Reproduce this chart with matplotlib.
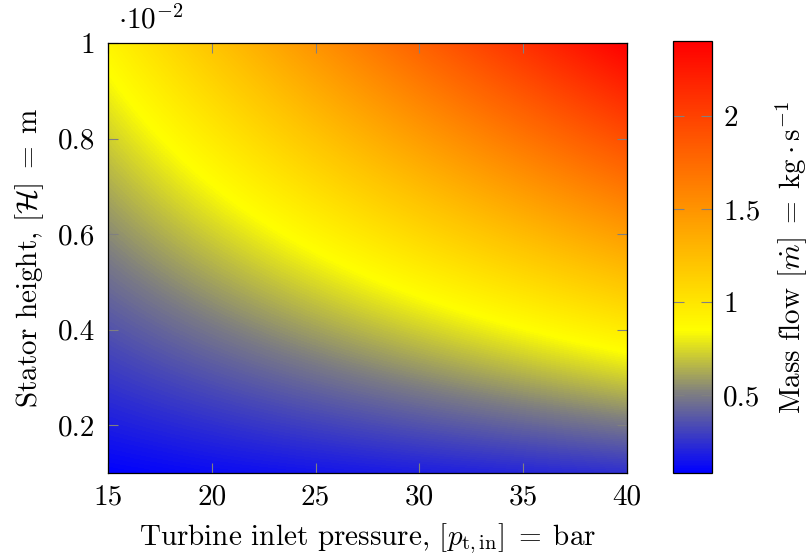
import numpy as np
import matplotlib
matplotlib.use('Agg')
import matplotlib.pyplot as plt
from matplotlib.colors import LinearSegmentedColormap

# Turbine inlet pressure in bar (columns) and stator height in 1e-2 m (rows)
pressure = [15, 20, 25, 30, 35, 40]
height = [0.1, 0.2, 0.3, 0.4, 0.5, 0.6, 0.7, 0.8, 0.9, 1.0]

# Mass flow in kg/s, read from the colour field, one row per stator height
mass_flow = [
    [0.085, 0.12, 0.15, 0.18, 0.21, 0.24],
    [0.18, 0.24, 0.30, 0.36, 0.42, 0.48],
    [0.27, 0.36, 0.45, 0.54, 0.63, 0.72],
    [0.36, 0.48, 0.60, 0.72, 0.84, 0.96],
    [0.45, 0.60, 0.75, 0.90, 1.05, 1.20],
    [0.54, 0.72, 0.90, 1.08, 1.26, 1.44],
    [0.63, 0.84, 1.05, 1.26, 1.47, 1.68],
    [0.72, 0.96, 1.20, 1.44, 1.68, 1.92],
    [0.81, 1.08, 1.35, 1.62, 1.89, 2.16],
    [0.90, 1.20, 1.50, 1.80, 2.10, 2.40],
]

x_ticks = [15, 20, 25, 30, 35, 40]
y_ticks = [0.2, 0.4, 0.6, 0.8, 1.0]
y_tick_labels = ['0.2', '0.4', '0.6', '0.8', '1']
cbar_ticks = [0.5, 1.0, 1.5, 2.0]
cbar_tick_labels = ['0.5', '1', '1.5', '2']

plt.rcParams['font.family'] = 'serif'
plt.rcParams['font.serif'] = ['cmr10']
plt.rcParams['mathtext.fontset'] = 'cm'
plt.rcParams['axes.formatter.use_mathtext'] = True

cmap = LinearSegmentedColormap.from_list(
    'bgyr', [(0.0, (0, 0, 1)), (0.185, (0.5, 0.5, 0.5)),
             (0.33, (1, 1, 0)), (1.0, (1, 0, 0))])

fig = plt.figure(figsize=(8.09, 5.58), dpi=100)
ax = fig.add_axes([0.1335, 0.1523, 0.6415, 0.7706])
cax = fig.add_axes([0.832, 0.1523, 0.048, 0.7735])

Z = np.array(mass_flow)
dx = (pressure[1] - pressure[0]) / 2
dy = (height[1] - height[0]) / 2
im = ax.imshow(Z, origin='lower', aspect='auto', cmap=cmap,
               vmin=0.08, vmax=2.40,
               interpolation='bilinear', interpolation_stage='data',
               extent=[pressure[0] - dx, pressure[-1] + dx,
                       height[0] - dy, height[-1] + dy])
ax.set_xlim(pressure[0], pressure[-1])
ax.set_ylim(height[0], height[-1])

fs = 21
tick_color = (0.5, 0.5, 0.5)
ax.set_xticks(x_ticks)
ax.set_xticklabels([str(t) for t in x_ticks])
ax.set_yticks(y_ticks)
ax.set_yticklabels(y_tick_labels)
ax.tick_params(direction='in', length=7, width=0.8, color=tick_color,
               top=True, right=True, labelsize=fs)
ax.tick_params(axis='x', pad=8)
ax.tick_params(axis='y', pad=9)
for s in ax.spines.values():
    s.set_linewidth(0.9)

ax.set_xlabel(r'Turbine inlet pressure, $[p_{\mathrm{t,in}}]\;=\;\mathrm{bar}$',
              fontsize=fs, labelpad=8)
ax.set_ylabel(r'Stator height, $[\mathcal{H}]\;=\;\mathrm{m}$', fontsize=fs,
              labelpad=9)
ax.text(0.02, 1.02, r'$\cdot 10^{-2}$', transform=ax.transAxes,
        fontsize=fs, ha='left', va='bottom')

cb = fig.colorbar(im, cax=cax)
cb.set_ticks(cbar_ticks)
cb.set_ticklabels(cbar_tick_labels)
cax.tick_params(direction='in', length=8, width=0.8, color=tick_color,
                left=True, right=True, labelsize=fs, pad=8)
cb.outline.set_linewidth(0.9)
cb.set_label(r'Mass flow $[\dot{m}]\;=\;\mathrm{kg} \cdot \mathrm{s}^{-1}$',
             fontsize=fs, labelpad=9)

fig.savefig('out.png', dpi=100)
